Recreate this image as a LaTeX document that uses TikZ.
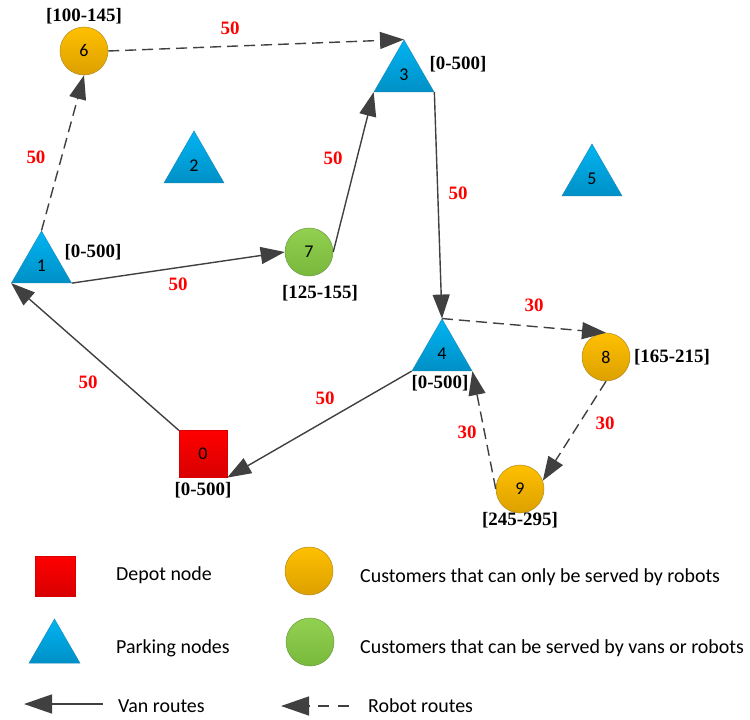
\documentclass[tikz,border=0pt]{standalone}
\usepackage{fontspec}
\setmainfont{Carlito}
\newfontfamily\tnr{Liberation Serif}
\usetikzlibrary{shapes.geometric,arrows.meta}
\definecolor{triT}{HTML}{00B4F2}
\definecolor{triB}{HTML}{0090C6}
\definecolor{triD}{HTML}{1A86B8}
\definecolor{orT}{HTML}{FFC000}
\definecolor{orB}{HTML}{DCA000}
\definecolor{orD}{HTML}{B08A20}
\definecolor{grT}{HTML}{92D050}
\definecolor{grB}{HTML}{78B83C}
\definecolor{grD}{HTML}{6A9A40}
\definecolor{rdT}{HTML}{FF0000}
\definecolor{rdB}{HTML}{D80000}
\definecolor{edge}{HTML}{404040}
\begin{document}
\begin{tikzpicture}[x=1bp,y=-1bp,
  tri/.style={regular polygon, regular polygon sides=3, minimum size=69.3bp, inner sep=0pt,
    draw=triD, line width=0.4bp, top color=triT, bottom color=triB, font=\fontsize{18}{18}\selectfont},
  circ/.style={circle, minimum size=48bp, inner sep=0pt, line width=0.5bp, font=\fontsize{18}{18}\selectfont},
  orc/.style={circ, draw=orD, top color=orT, bottom color=orB},
  grc/.style={circ, draw=grD, top color=grT, bottom color=grB},
  depot/.style={rectangle, minimum width=48bp, minimum height=47bp, inner sep=0pt, draw=rdB, line width=0.3bp,
    top color=rdT, bottom color=rdB, font=\fontsize{18}{18}\selectfont},
  tw/.style={font=\tnr\bfseries\fontsize{19}{19}\selectfont, inner sep=0pt},
  wt/.style={text=red, font=\tnr\bfseries\fontsize{19}{19}\selectfont, inner sep=0pt},
  leg/.style={anchor=west, inner sep=0pt, font=\fontsize{20}{20}\selectfont},
  van/.style={draw=edge, line width=1.4bp, -{Triangle[length=24bp,width=17bp]}, color=edge},
  robot/.style={van, dash pattern=on 11bp off 6bp},
  legtip/.style={-{Triangle[length=28bp,width=19bp]}},
  robotleg/.style={draw=edge, line width=1.4bp, color=edge, dash pattern=on 11bp off 9bp}
]
\useasboundingbox (0,0) rectangle (750,720);

% nodes
\node[tri] (n1) at (41.5,265.6) {1};
\node[tri] (n2) at (194,165.6) {2};
\node[tri] (n3) at (404,74.6) {3};
\node[tri] (n4) at (442,353.6) {4};
\node[tri] (n5) at (592,178.6) {5};
\node[orc] (n6) at (84,51) {6};
\node[grc] (n7) at (309,252) {7};
\node[orc] (n8) at (606,357) {8};
\node[orc] (n9) at (520,489) {9};
\node[depot] (n0) at (203,454) {0};

% time windows
\node[tw] (t6) at (84,16) {[100-145]};
\node[tw] (t3) at (458,64) {[0-500]};
\node[tw] (t1) at (93,252) {[0-500]};
\node[tw] (t7) at (320,293) {[125-155]};
\node[tw] (t4) at (440,383) {[0-500]};
\node[tw] (t8) at (672,357) {[165-215]};
\node[tw] (t9) at (520,520) {[245-295]};
\node[tw] (t0) at (203,490) {[0-500]};

% edges
\draw[robot] (n1.corner 1) -- (n6.south);
\draw[robot] (n6.east) -- (n3.corner 1);
\draw[van] (n1.corner 3) -- (n7.west);
\draw[van] (n7.east) -- (n3.corner 2);
\draw[van] (n3.corner 3) -- (n4.corner 1);
\draw[robot] (n4.corner 1) -- (n8.north);
\draw[robot] (n8.south) -- (n9.20);
\draw[robot] (n9.west) -- (n4.corner 3);
\draw[van] (n4.corner 2) -- (n0.south east);
\draw[van] (n0.north west) -- (n1.corner 2);

% weights
\node[wt] (w63) at (230,28) {50};
\node[wt] (w16) at (36,157) {50};
\node[wt] (w17) at (178,284) {50};
\node[wt] (w73) at (333,158) {50};
\node[wt] (w34) at (458,193) {50};
\node[wt] (w48) at (534,305) {30};
\node[wt] (w89) at (605,423) {30};
\node[wt] (w94) at (467,432) {30};
\node[wt] (w40) at (325,398) {50};
\node[wt] (w01) at (88,382) {50};

% legend
\node[rectangle, minimum width=40bp, minimum height=40bp, inner sep=0pt, draw=rdB, line width=0.3bp,
  top color=rdT, bottom color=rdB] (lg0) at (55,576) {};
\node[regular polygon, regular polygon sides=3, minimum size=58.9bp, inner sep=0pt,
    draw=triD, line width=0.4bp, top color=triT, bottom color=triB] (lgp) at (54.5,648.4) {};
\node[orc] (lgo) at (309,571) {};
\node[grc] (lgg) at (310,642) {};
\node[leg] (ld) at (116,575) {Depot node};
\node[leg] (lp) at (116,648) {Parking nodes};
\node[leg] (lo) at (360,577) {Customers that can only be served by robots};
\node[leg] (lgt) at (360,648) {Customers that can be served by vans or robots};
\node[leg] (lv) at (118,706) {Van routes};
\node[leg] (lr) at (368,706) {Robot routes};
\coordinate (va1) at (103,704);
\coordinate (va2) at (24,704);
\draw[draw=edge, line width=1.4bp, color=edge, legtip] (va1) -- (va2);
\coordinate (ra1) at (349,706);
\coordinate (ra2) at (281,706);
\draw[robotleg, legtip] (ra1) -- (ra2);
\end{tikzpicture}
\end{document}
